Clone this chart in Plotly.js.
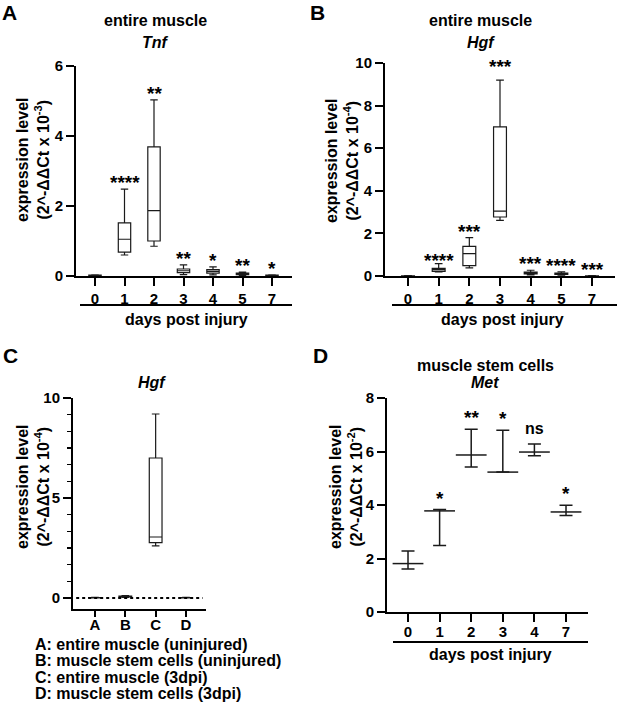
<!DOCTYPE html>
<html><head><meta charset="utf-8">
<script src="https://cdn.plot.ly/plotly-3.0.1.min.js"></script>
<style>body{margin:0;background:#fff}#chart{width:617px;height:704px}</style>
</head><body><div id="chart"></div>
<script>
// Panel A: entire muscle, Tnf (x10^-3)
const daysA = ["0","1","2","3","4","5","7"];
const tnfLow  = [0.010,0.60,0.85,0.04,0.03,0.02,0.010];
const tnfQ1   = [0.015,0.68,1.00,0.095,0.08,0.04,0.015];
const tnfMed  = [0.020,1.05,1.87,0.15,0.13,0.06,0.020];
const tnfQ3   = [0.025,1.52,3.69,0.20,0.18,0.08,0.025];
const tnfHigh = [0.030,2.48,5.03,0.32,0.26,0.11,0.030];
const tnfSig  = ["","****","**","**","*","**","*"];

// Panel B: entire muscle, Hgf (x10^-4)
const daysB = ["0","1","2","3","4","5","7"];
const hgfLow  = [0.005,0.19,0.38,2.61,0.05,0.04,0.005];
const hgfQ1   = [0.007,0.22,0.49,2.77,0.10,0.08,0.007];
const hgfMed  = [0.010,0.30,1.05,3.05,0.14,0.11,0.010];
const hgfQ3   = [0.012,0.36,1.39,7.00,0.18,0.14,0.012];
const hgfHigh = [0.015,0.58,1.80,9.20,0.27,0.20,0.015];
const hgfSig  = ["","****","***","***","***","****","***"];

// Panel C: Hgf by group (x10^-4)
const groupsC = ["A","B","C","D"];
const cLow  = [0.005,0.03,2.61,0.005];
const cQ1   = [0.010,0.05,2.77,0.010];
const cMed  = [0.015,0.08,3.05,0.015];
const cQ3   = [0.020,0.10,7.00,0.020];
const cHigh = [0.030,0.12,9.20,0.030];
const legendC = ["A: entire muscle (uninjured)","B: muscle stem cells (uninjured)","C: entire muscle (3dpi)","D: muscle stem cells (3dpi)"];

// Panel D: muscle stem cells, Met (x10^-2), median with range
const daysD = ["0","1","2","3","4","7"];
const metMed  = [1.81,3.78,5.87,5.23,5.98,3.74];
const metLow  = [1.61,2.49,5.42,5.23,5.84,3.61];
const metHigh = [2.28,3.83,6.83,6.79,6.28,3.99];
const metSig  = ["","*","**","*","ns","*"];

const W = 617, H = 704;
const px = v => v / W;
const py = v => 1 - v / H;
const FONT = "Liberation Sans, Arial, Helvetica, sans-serif";
const INK = "#1a1a1a";

function boxTrace(x, lo, q1, med, q3, hi, xa, ya) {
  return {type:'box', x:x, lowerfence:lo, q1:q1, median:med, q3:q3, upperfence:hi,
    boxpoints:false, xaxis:xa, yaxis:ya, fillcolor:'rgba(255,255,255,0)',
    line:{color:INK, width:1.2}, whiskerwidth:0.6, hoverinfo:'skip', showlegend:false};
}

const data = [
  boxTrace(daysA, tnfLow, tnfQ1, tnfMed, tnfQ3, tnfHigh, 'x', 'y'),
  boxTrace(daysB, hgfLow, hgfQ1, hgfMed, hgfQ3, hgfHigh, 'x2', 'y2'),
  boxTrace(groupsC, cLow, cQ1, cMed, cQ3, cHigh, 'x3', 'y3'),
  {type:'scatter', mode:'markers', x:daysD, y:metMed, xaxis:'x4', yaxis:'y4',
   marker:{symbol:'line-ew-open', size:22, color:INK, line:{color:INK, width:1.5}},
   error_y:{type:'data', symmetric:false,
     array: metHigh.map((h,i)=>h-metMed[i]),
     arrayminus: metMed.map((m,i)=>m-metLow[i]),
     color:INK, thickness:1.5, width:6.5},
   hoverinfo:'skip', showlegend:false}
];

function xax(domain, range, cats, extra) {
  return Object.assign({domain:domain, type:'category', categoryorder:'array', categoryarray:cats,
    range:range, showline:true, linecolor:'#000', linewidth:2, ticks:'outside',
    ticklen:8, tickwidth:2, tickcolor:'#000', showgrid:false, zeroline:false,
    tickfont:{family:FONT, size:15, color:'#000', weight:'bold'}, fixedrange:true}, extra || {});
}
function yax(domain, range, extra) {
  return Object.assign({domain:domain, range:range, showline:true, linecolor:'#000',
    linewidth:2, ticks:'outside', ticklen:8, tickwidth:2, tickcolor:'#000',
    showgrid:false, zeroline:false,
    tickfont:{family:FONT, size:15, color:'#000', weight:'bold'}, fixedrange:true}, extra);
}

const ann = [];
function txt(text, x, y, size, opts) {
  ann.push(Object.assign({text:text, xref:'paper', yref:'paper', x:px(x), y:py(y),
    xanchor:'center', yanchor:'middle', showarrow:false,
    font:{family:FONT, size:size, color:'#000', weight:'bold'}}, opts || {}));
}
// panel letters
txt("A", 9, 13, 21); txt("B", 317, 13, 21); txt("C", 10, 355, 21); txt("D", 320, 355, 21);
// titles
txt("entire muscle", 156, 20, 16); txt("<i>Tnf</i>", 156, 42, 16);
txt("entire muscle", 481, 21, 16); txt("<i>Hgf</i>", 481, 42, 16);
txt("<i>Hgf</i>", 152, 382, 16);
txt("muscle stem cells", 485, 365, 16); txt("<i>Met</i>", 485, 382, 16);
// y titles
const yt = e => "expression level<br>(2^-ΔΔCt x 10<sup>" + e + "</sup>)";
txt(yt("-3"), 33, 160, 16, {textangle:-90});
txt(yt("-4"), 342, 160, 16, {textangle:-90});
txt(yt("-4"), 33, 487, 16, {textangle:-90});
txt(yt("-2"), 346, 487, 16, {textangle:-90});
// x titles
txt("days post injury", 186, 319, 16);
txt("days post injury", 502, 319, 16);
txt("days post injury", 490, 654, 16);
// legend of panel C
legendC.forEach((s,i) => txt(s, 33, 644 + i*16.5, 16, {xanchor:'left'}));

// significance labels (x given as category index so numeric-looking names are not misread)
function sig(labels, tops, xr, yr, shift, extra) {
  labels.forEach((s,i) => {
    if (!s) return;
    const isNs = s === 'ns';
    ann.push({text:s, x:i, y:tops[i], xref:xr, yref:yr, xanchor:'center', yanchor:'bottom',
      yshift: (isNs ? shift + 6 : shift) + (extra ? extra[i] : 0), showarrow:false,
      font:{family:FONT, size: isNs ? 16 : 19, color:'#000', weight:'bold'}});
  });
}
sig(tnfSig, tnfHigh, 'x', 'y', -6);
sig(hgfSig, hgfHigh, 'x2', 'y2', -6, [0,-3,0,7,0,0,0]);
sig(metSig, metHigh, 'x4', 'y4', -1);

const shapes = [
  {type:'line', xref:'paper', yref:'paper', x0:px(80), x1:px(292), y0:py(305), y1:py(305), line:{color:'#000', width:2}},
  {type:'line', xref:'paper', yref:'paper', x0:px(392), x1:px(617), y0:py(305), y1:py(305), line:{color:'#000', width:2}},
  {type:'line', xref:'paper', yref:'paper', x0:px(393), x1:px(588), y0:py(642), y1:py(642), line:{color:'#000', width:2}},
  {type:'line', xref:'x3', yref:'y3', x0:-0.62, x1:3.55, y0:0, y1:0, line:{color:'#000', width:2, dash:'dot'}}
];

const layout = {
  width:W, height:H, margin:{l:0, r:0, t:0, b:0}, paper_bgcolor:'#fff', plot_bgcolor:'#fff',
  showlegend:false, boxgap:0.4,
  xaxis: xax([px(76), px(292)], [-0.644, 6.678], daysA),
  yaxis: yax([py(276), py(66)], [0, 6], {dtick:2, tick0:0}),
  xaxis2: xax([px(385), px(615)], [-0.75, 6.75], daysB),
  yaxis2: yax([py(276), py(63)], [0, 10], {dtick:2, tick0:0}),
  xaxis3: xax([px(73), px(206)], [-0.725, 3.66], groupsC, {ticklen:6, ticklabelstandoff:-5}),
  yaxis3: yax([py(609), py(398)], [-0.55, 10], {tickvals:[0,5,10],
    minor:{tickvals:[0.8333,1.6667,2.5,3.3333,4.1667,5.8333,6.6667,7.5,8.3333,9.1667], ticklen:4, tickwidth:1.5, tickcolor:'#000', ticks:'outside'}}),
  xaxis4: xax([px(387), px(588)], [-0.665, 5.696], daysD, {ticklabelstandoff:-3}),
  yaxis4: yax([py(612), py(398)], [0, 8], {dtick:2, tick0:0}),
  annotations: ann, shapes: shapes
};
layout.xaxis.anchor='y'; layout.yaxis.anchor='x';
layout.xaxis2.anchor='y2'; layout.yaxis2.anchor='x2';
layout.xaxis3.anchor='y3'; layout.yaxis3.anchor='x3';
layout.xaxis4.anchor='y4'; layout.yaxis4.anchor='x4';

Plotly.newPlot('chart', data, layout, {displayModeBar:false, staticPlot:true});
</script></body></html>
